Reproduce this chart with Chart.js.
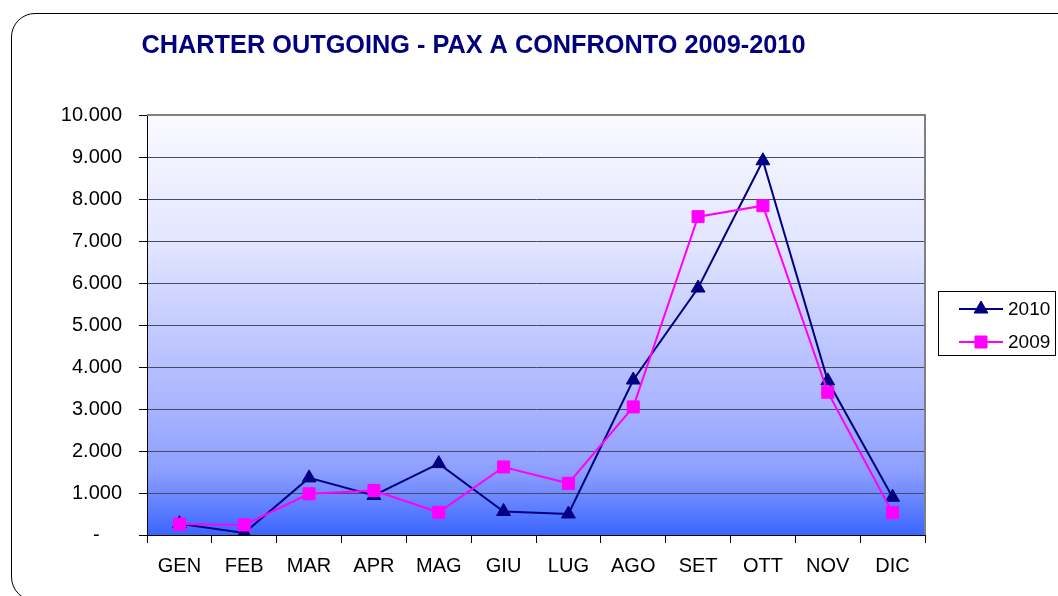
<!DOCTYPE html>
<html>
<head>
<meta charset="utf-8">
<script src="https://cdn.jsdelivr.net/npm/chart.js@4"></script>
<style>
  html, body { margin: 0; padding: 0; background: #ffffff; overflow: hidden; }
  #wrap { position: relative; width: 1058px; height: 596px; overflow: hidden; }
  #frame {
    position: absolute; left: 11px; top: 13px; width: 1100px; height: 588px;
    border: 1.3px solid #000; border-radius: 24px; box-sizing: border-box;
  }
  #chart { position: absolute; left: 0; top: 0; }
</style>
</head>
<body>
<div id="wrap">
  <div id="frame"></div>
  <canvas id="chart" width="1058" height="596"></canvas>
</div>
<script>
// Months and passenger counts per year
const months = ['GEN', 'FEB', 'MAR', 'APR', 'MAG', 'GIU', 'LUG', 'AGO', 'SET', 'OTT', 'NOV', 'DIC'];
const pax2010 = [270, 50, 1360, 940, 1700, 560, 500, 3690, 5880, 8910, 3670, 900];
const pax2009 = [260, 240, 980, 1060, 540, 1620, 1230, 3050, 7580, 7840, 3400, 530];
const yTickLabels = ['-    ', '1.000', '2.000', '3.000', '4.000', '5.000', '6.000', '7.000', '8.000', '9.000', '10.000'];
const chartTitle = 'CHARTER OUTGOING - PAX A CONFRONTO 2009-2010';

const FONT = '"Liberation Sans", Arial, sans-serif';

// Plot background, frame, title and legend
const decor = {
  id: 'decor',
  beforeDraw(chart) {
    const { ctx, chartArea: a } = chart;
    ctx.save();
    const g = ctx.createLinearGradient(0, a.top, 0, a.bottom);
    g.addColorStop(0, '#fafaff');
    g.addColorStop(0.3, '#e2e6ff');
    g.addColorStop(0.5, '#c4ccff');
    g.addColorStop(0.7, '#a8b4ff');
    g.addColorStop(0.85, '#8c9eff');
    g.addColorStop(1, '#3a66ff');
    ctx.fillStyle = g;
    ctx.fillRect(a.left, a.top, a.right - a.left, a.bottom - a.top);
    ctx.restore();
  },
  afterDraw(chart) {
    const { ctx, chartArea: a } = chart;
    ctx.save();
    // top and right plot border
    ctx.strokeStyle = '#808080';
    ctx.lineWidth = 2;
    ctx.beginPath();
    ctx.moveTo(a.left, a.top);
    ctx.lineTo(a.right, a.top);
    ctx.lineTo(a.right, a.bottom);
    ctx.stroke();

    // title
    ctx.fillStyle = '#000080';
    ctx.font = 'bold 25.3px ' + FONT;
    ctx.textAlign = 'center';
    ctx.textBaseline = 'alphabetic';
    ctx.fillText(chartTitle, 473.5, 53);

    // legend
    const lx = 938.5, ly = 291.5, lw = 117, lh = 64;
    ctx.fillStyle = '#ffffff';
    ctx.fillRect(lx, ly, lw, lh);
    ctx.strokeStyle = '#000';
    ctx.lineWidth = 1;
    ctx.strokeRect(lx, ly, lw, lh);
    const rowY = [309, 342];
    [0, 1].forEach((di, k) => {
      const ds = chart.data.datasets[di];
      const y = rowY[k];
      ctx.strokeStyle = ds.borderColor;
      ctx.lineWidth = 2;
      ctx.beginPath();
      ctx.moveTo(959, y);
      ctx.lineTo(1003, y);
      ctx.stroke();
      ctx.fillStyle = ds.pointBackgroundColor;
      ctx.strokeStyle = ds.pointBorderColor;
      ctx.lineWidth = 1;
      Chart.helpers.drawPoint(ctx, { pointStyle: ds.pointStyle, rotation: 0, radius: ds.pointRadius, borderWidth: 1 }, 981, y);
      ctx.fillStyle = '#000';
      ctx.font = '19px ' + FONT;
      ctx.textAlign = 'left';
      ctx.textBaseline = 'middle';
      ctx.fillText(ds.label, 1008, y + 1);
    });
    ctx.restore();
  }
};

new Chart(document.getElementById('chart'), {
  type: 'line',
  data: {
    labels: months,
    datasets: [
      {
        label: '2010',
        data: pax2010,
        borderColor: '#000080',
        backgroundColor: '#000080',
        pointBackgroundColor: '#000080',
        pointBorderColor: '#000080',
        pointStyle: 'triangle',
        pointRadius: 8,
        pointBorderWidth: 1,
        borderWidth: 2,
        tension: 0,
        order: 1
      },
      {
        label: '2009',
        data: pax2009,
        borderColor: '#ff00ff',
        backgroundColor: '#ff00ff',
        pointBackgroundColor: '#ff00ff',
        pointBorderColor: '#ff00ff',
        pointStyle: 'rect',
        pointRadius: 8.5,
        pointBorderWidth: 1,
        borderWidth: 2,
        tension: 0,
        order: 0
      }
    ]
  },
  options: {
    responsive: false,
    animation: false,
    layout: { padding: { left: 0, top: 115, right: 133, bottom: 0 } },
    plugins: {
      legend: { display: false },
      title: { display: false },
      tooltip: { enabled: false }
    },
    scales: {
      x: {
        offset: true,
        grid: {
          offset: true,
          drawOnChartArea: false,
          drawTicks: true,
          tickLength: 8,
          tickColor: '#000',
          tickWidth: 1
        },
        border: { color: '#000', width: 1 },
        ticks: {
          color: '#000',
          font: { family: FONT, size: 20 },
          padding: 11,
          maxRotation: 0,
          autoSkip: false
        },
        afterFit(scale) { scale.height = 61; }
      },
      y: {
        min: 0,
        max: 10000,
        grid: {
          color: '#4a4a5c',
          lineWidth: 1,
          tickLength: 8,
          tickColor: '#000',
          tickWidth: 1
        },
        border: { color: '#000', width: 1 },
        ticks: {
          stepSize: 1000,
          color: '#000',
          font: { family: FONT, size: 20 },
          padding: 17,
          callback: (v, i) => yTickLabels[i]
        },
        afterFit(scale) { scale.width = 147; }
      }
    }
  },
  plugins: [decor]
});
</script>
</body>
</html>
